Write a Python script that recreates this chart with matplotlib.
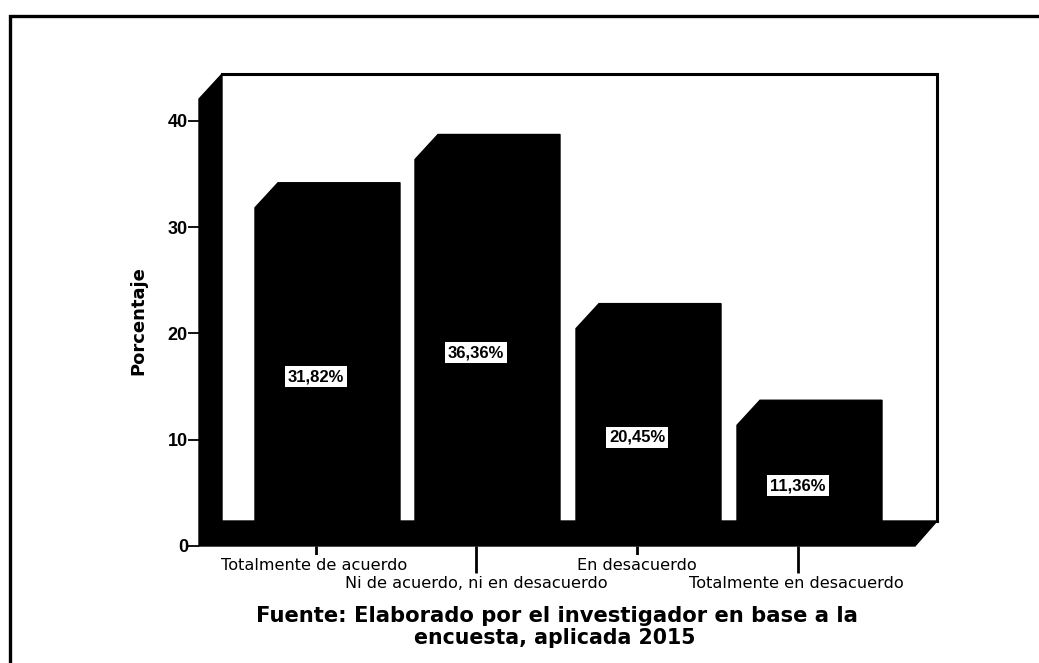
import matplotlib
matplotlib.use("Agg")
import matplotlib.pyplot as plt
from matplotlib.patches import Polygon

categories = ["Totalmente de acuerdo", "Ni de acuerdo, ni en desacuerdo", "En desacuerdo", "Totalmente en desacuerdo"]
values = [31.82, 36.36, 20.45, 11.36]
labels = ["31,82%", "36,36%", "20,45%", "11,36%"]
yticks = [0, 10, 20, 30, 40]

W, H = 1039, 663
plt.rcParams['font.family'] = ['Liberation Sans', 'DejaVu Sans']
fig = plt.figure(figsize=(W / 100, H / 100), dpi=100)

# main axes: front plane of the 3d box, y in data units
left, right, bottom, top = 199, 915, 546, 99
px = 10.63
ax = fig.add_axes([left / W, 1 - bottom / H, (right - left) / W, (bottom - top) / H])
ymax = (bottom - top) / px
ax.set_xlim(left, right)
ax.set_ylim(0, ymax)
ax.set_facecolor("white")
for s in ax.spines.values():
    s.set_visible(False)

dx, dy = 23, 25 / px
ink = "#000000"
# left wall, floor and back outline
ax.add_patch(Polygon([(left, 0), (left, ymax), (left + dx, ymax + dy), (left + dx, dy)], closed=True, fc=ink, ec=ink, clip_on=False))
ax.add_patch(Polygon([(left, 0), (left + dx, dy), (right + 22, dy), (right, 0)], closed=True, fc=ink, ec=ink, clip_on=False))
ax.plot([left + dx, right + 22, right + 22], [ymax + dy, ymax + dy, dy], color=ink, lw=2.2, clip_on=False, solid_joinstyle='miter')

# bars with a bevelled top
x0 = [255, 415, 576, 737]
bw = 121
for x, v, lab in zip(x0, values, labels):
    ax.add_patch(Polygon([(x, 0), (x, v), (x + dx, v + dy), (x + bw + 24, v + dy), (x + bw + 24, dy), (x + bw, 0)],
                         closed=True, fc=ink, ec=ink, zorder=3))
    ax.text(x + 61, v / 2, lab, ha='center', va='center', fontsize=12, fontweight='bold', zorder=4,
            color=ink, bbox=dict(fc='white', ec='none', pad=2.2))

ax.set_yticks(yticks)
ax.set_yticklabels(yticks, fontsize=13, fontweight='bold')
ax.tick_params(axis='y', length=8, width=1.3, pad=0)
ax.set_xticks([316, 476, 637, 798])
ax.set_xticklabels([])
ax.tick_params(axis='x', length=19.5, width=2, color=ink)
fig.text(138 / W, 1 - 321 / H, "Porcentaje", rotation=90, ha='center', va='center', fontsize=13, fontweight='bold',
         color=ink, family='DejaVu Sans')

# staggered category labels, white boxes hide the short ticks
label_y = [565, 584, 565, 584]
label_x = [314, 476, 637, 796]
for lx, ly, c in zip(label_x, label_y, categories):
    fig.text(lx / W, 1 - ly / H, c, ha='center', va='center', fontsize=11.65, color=ink, family='DejaVu Sans',
             bbox=dict(fc='white', ec='none', pad=1.8))

fig.text(557 / W, 1 - 616 / H, "Fuente: Elaborado por el investigador en base a la", ha='center', va='center',
         fontsize=15.2, fontweight='bold', color=ink, family='DejaVu Sans')
fig.text(555 / W, 1 - 638 / H, "encuesta, aplicada 2015", ha='center', va='center',
         fontsize=14.8, fontweight='bold', color=ink, family='DejaVu Sans')

# scanned picture only keeps the top and left edge of its frame
fig.add_artist(plt.Line2D([10 / W, 10 / W, 1], [0, 1 - 16 / H, 1 - 16 / H], color=ink, lw=2.4,
                          transform=fig.transFigure, solid_joinstyle='miter'))

fig.savefig("out.png", dpi=100)
